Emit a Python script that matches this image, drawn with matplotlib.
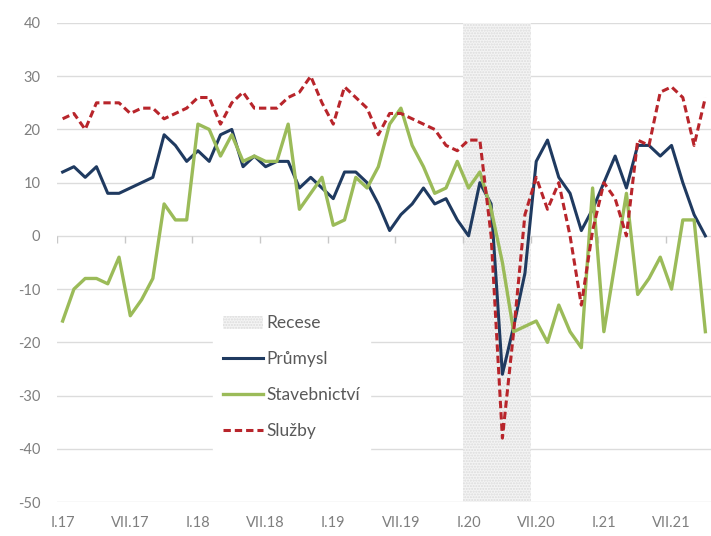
import numpy as np
import matplotlib
matplotlib.use("Agg")
import matplotlib.pyplot as plt
from matplotlib.patches import Patch
from matplotlib.lines import Line2D

# monthly data I.17 .. X.21
prumysl = [12, 13, 11, 13, 8, 8, 9, 10, 11, 19, 17, 14,
           16, 14, 19, 20, 13, 15, 13, 14, 14, 9, 11, 9,
           7, 12, 12, 10, 6, 1, 4, 6, 9, 6, 7, 3,
           0, 10, 6, -26, -17, -7, 14, 18, 11, 8, 1, 5,
           10, 15, 9, 17, 17, 15, 17, 10, 4, 0]
stavebnictvi = [-16, -10, -8, -8, -9, -4, -15, -12, -8, 6, 3, 3,
                21, 20, 15, 19, 14, 15, 14, 14, 21, 5, 8, 11,
                2, 3, 11, 9, 13, 21, 24, 17, 13, 8, 9, 14,
                9, 12, 5, -5, -18, -17, -16, -20, -13, -18, -21, 9,
                -18, -5, 8, -11, -8, -4, -10, 3, 3, -18]
sluzby = [22, 23, 20, 25, 25, 25, 23, 24, 24, 22, 23, 24,
          26, 26, 21, 25, 27, 24, 24, 24, 26, 27, 30, 25,
          21, 28, 26, 24, 19, 23, 23, 22, 21, 20, 17, 16,
          18, 18, 0, -38, -18, 4, 11, 5, 10, 0, -13, 1,
          10, 7, 0, 18, 17, 27, 28, 26, 17, 26]

tick_labels = ["I.17", "VII.17", "I.18", "VII.18", "I.19", "VII.19",
               "I.20", "VII.20", "I.21", "VII.21"]
recese_start = 36   # I.20
recese_months = 6

blue = "#1F3A60"
green = "#9BBB59"
red = "#B8252B"
grey_txt = "#7F7F7F"

plt.rcParams['font.family'] = ['Lato', 'DejaVu Sans']
plt.rcParams['axes.unicode_minus'] = False

fig = plt.figure(figsize=(7.11, 5.36), dpi=100)
ax = fig.add_axes([57 / 711, 34 / 536, 654 / 711, 479 / 536])

x = np.arange(len(prumysl))

ax.axvspan(recese_start - 0.5, recese_start + recese_months - 0.5,
           facecolor="#f4f4f4", edgecolor="#dcdcdc", hatch="......",
           lw=0, zorder=1)

ax.plot(x, prumysl, color=blue, lw=2.2, zorder=3, solid_joinstyle="round")
ax.plot(x, stavebnictvi, color=green, lw=2.4, zorder=3, solid_joinstyle="round")
ax.plot(x, sluzby, color=red, lw=2.2, zorder=4, dashes=(2.4, 1.3))

# small category ticks on the zero line
ax.vlines(np.arange(-0.5, len(prumysl), 6), -1.4, 0, color="#c8c8c8", lw=1, zorder=1)

ax.set_xlim(-0.5, 57.5)
ax.set_ylim(-50, 40)
ax.set_yticks(np.arange(-50, 41, 10))
ax.set_xticks(np.arange(0, len(tick_labels) * 6, 6))
ax.set_xticklabels(tick_labels)
ax.grid(axis="y", color="#dcdcdc", lw=1, zorder=0)
ax.set_axisbelow(True)
for s in ax.spines.values():
    s.set_visible(False)
ax.tick_params(axis="both", length=0, colors=grey_txt, labelsize=10.5)
ax.tick_params(axis="y", pad=12)
ax.tick_params(axis="x", pad=10)

handles = [Patch(facecolor="#f4f4f4", edgecolor="#dcdcdc", hatch="......", lw=0),
           Line2D([], [], color=blue, lw=2.2),
           Line2D([], [], color=green, lw=2.4),
           Line2D([], [], color=red, lw=2.2, dashes=(2.4, 1.3))]
labels = ["Recese", "Průmysl", "Stavebnictví", "Služby"]
leg = ax.legend(handles, labels, loc="upper left",
                bbox_to_anchor=(213 / 711, 1 - 305 / 536),
                bbox_transform=fig.transFigure,
                frameon=True, facecolor="white", edgecolor="white",
                framealpha=1, fancybox=False, fontsize=12.5,
                handlelength=2.3, handleheight=0.8, handletextpad=0.15,
                labelspacing=1.15, borderpad=0.6, borderaxespad=0)
leg.set_zorder(5)
for t in leg.get_texts():
    t.set_color("#595959")

fig.savefig("out.png", dpi=100, facecolor="white")
